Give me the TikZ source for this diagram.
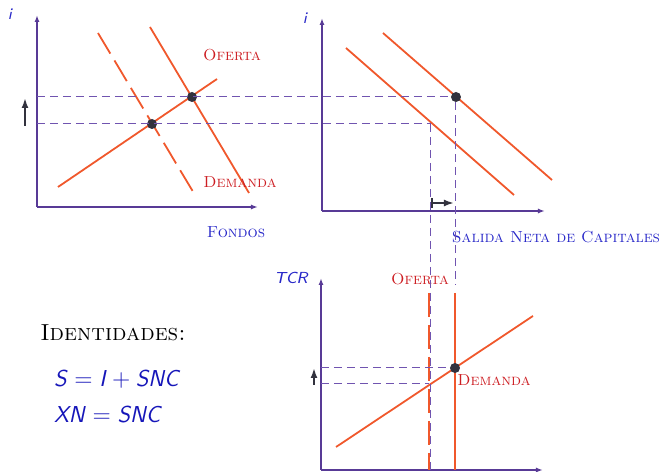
\documentclass[tikz,border=0pt]{standalone}
\usepackage{amsmath, amssymb}
\usepackage{xcolor}
\usepackage{tikz}
\usetikzlibrary{arrows.meta, positioning, calc}

\definecolor{ejecolor}{RGB}{88,58,150}
\definecolor{guiacolor}{RGB}{112,84,176}
\definecolor{curvacolor}{RGB}{240,88,44}
\definecolor{rotcolor}{RGB}{205,30,35}
\definecolor{azulcolor}{RGB}{40,40,200}
\definecolor{eqcolor}{RGB}{22,22,185}
\definecolor{puntocolor}{RGB}{50,50,62}

\newcommand{\sv}[1]{\textsf{\textit{#1}}}

\tikzset{
  eje/.style={ejecolor, line width=0.75pt, -{Latex[length=3.5pt,width=2.5pt]}},
  guia/.style={guiacolor, line width=0.5pt, dash pattern=on 4pt off 2.5pt},
  curva/.style={curvacolor, line width=0.9pt},
  curvadash/.style={curvacolor, line width=0.9pt, dash pattern=on 12pt off 4pt},
  punto/.style={circle, fill=puntocolor, inner sep=0pt, minimum size=5pt},
  rotulo/.style={rotcolor, font=\fontsize{8}{9}\selectfont\scshape, inner sep=1pt},
  rotuloeje/.style={azulcolor, font=\fontsize{8}{9}\selectfont\scshape, inner sep=1pt},
  var/.style={azulcolor, font=\fontsize{8}{9}\selectfont\sffamily\itshape, inner sep=1pt},
  flecha/.style={puntocolor, line width=1pt, -{Latex[length=5pt,width=3.5pt]}}
}

\begin{document}
\begin{tikzpicture}[x=0.5pt, y=0.5pt]
		\useasboundingbox (0,0) rectangle (661,472);
		
		% Mercado de fondos
		\draw[eje] (37,265) -- (258,265);
		\draw[eje] (37,265) -- (37,457);
		\node[var] (iF) at (10,458) {i};
		\node[rotuloeje] (fondos) at (236,240) {Fondos};
		
		\draw[curva] (58,285) -- (217,393);
		\draw[curvadash] (98,439) -- (195,277);
		\draw[curva] (150,445) -- (249,279);
		\node[rotulo] (ofF) at (232,417) {Oferta};
		\node[rotulo] (deF) at (240,290) {Demanda};
		
		% Mercado de capitales
		\draw[eje] (322,261) -- (545,261);
		\draw[eje] (322,261) -- (322,454);
		\node[var] (iS) at (305,454) {i};
		\node[rotuloeje] (salida) at (556,235) {Salida Neta de Capitales};
		
		\draw[curva] (346,424) -- (514,277);
		\draw[curva] (383,439) -- (552,292);
		
		% Mercado de divisas
		\draw[eje] (321,2) -- (543,2);
		\draw[eje] (321,2) -- (321,194);
		\node[var] (tcr) at (291,194) {TCR};
		
		\draw[curvadash] (429,179) -- (429,2);
		\draw[curva] (455,179) -- (455,2);
		\draw[curva] (336,25) -- (533,156);
		\node[rotulo] (ofD) at (420,193) {Oferta};
		\node[rotulo] (deD) at (494,92) {Demanda};
		
		% Equilibrios
		\node[punto] (a0) at (152,348) {};
		\node[punto] (a1) at (192,375) {};
		\node[punto] (b1) at (456,375) {};
		\node[punto] (c1) at (455,104) {};
		\coordinate (b0) at (431,348);
		\coordinate (c0) at (429,88);
		
		% Guias
		\draw[guia] (37,375) -- (b1);
		\draw[guia] (37,348) -- (b0);
		\draw[guia] (b0) -- (431,2);
		\draw[guia] (b1) -- (456,187);
		\draw[guia] (321,104) -- (c1);
		\draw[guia] (321,88) -- (c0);
		
		% Desplazamientos
		\draw[flecha] (25,346) -- (25,374);
		\draw[flecha, {Bar[width=5pt]}-{Latex[length=5pt,width=3.5pt]}] (431,269) -- (454,269);
		\draw[flecha] (314,87) -- (314,104);
		
		% Identidades
		\node[font=\fontsize{11.6}{14}\selectfont\scshape] (ident) at (113,139) {Identidades:};
		\node[eqcolor, anchor=west, font=\fontsize{11.5}{14}\selectfont] (eq1) at (47,93)
		{$\sv{S} = \sv{I} + \sv{SNC}$};
		\node[eqcolor, anchor=west, font=\fontsize{11.5}{14}\selectfont] (eq2) at (47,57)
		{$\sv{XN} = \sv{SNC}$};
	\end{tikzpicture}
\end{document}
